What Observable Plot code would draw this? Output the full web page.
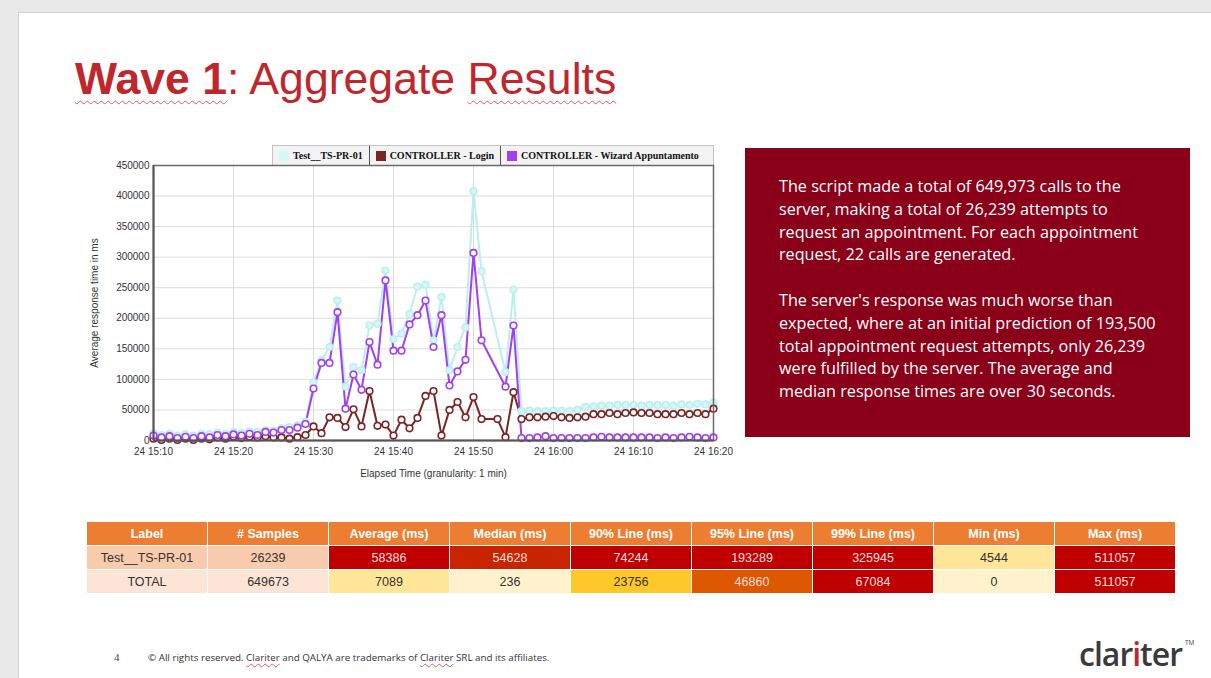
<!DOCTYPE html>
<html>
<head>
<meta charset="utf-8">
<script src="https://cdn.jsdelivr.net/npm/d3@7"></script>
<script src="https://cdn.jsdelivr.net/npm/@observablehq/plot@0.6"></script>
<style>
  html, body { margin: 0; padding: 0; }
  body { width: 1211px; height: 678px; background: #e9e9e9; position: relative; overflow: hidden; font-family: "Liberation Sans", Arial, sans-serif; }
  #slide { position: absolute; left: 18px; top: 12px; width: 1200px; height: 680px; background: #fff; border-left: 1px solid #d2d2d2; border-top: 1px solid #d2d2d2; }
  .abs { position: absolute; }
  #title { left: 75px; top: 57px; font-size: 44.6px; color: #c0272d; white-space: nowrap; line-height: 1; }
  .squig { text-decoration: underline wavy #e06060; text-decoration-thickness: 1px; text-underline-offset: 6px; }
  #box { left: 745px; top: 148px; width: 445px; height: 289px; background: #8a0018; }
  #boxtext { left: 779px; top: 175px; color: #fff; font-family: "Open Sans", sans-serif; font-size: 16.2px; line-height: 22.8px; white-space: nowrap; }
  #legend { left: 272px; top: 145px; width: 440px; height: 19px; background: #f3f3f3; border: 1px solid #c4c4c4; border-bottom: none; font-family: "Liberation Serif", "Times New Roman", serif; font-weight: bold; font-size: 10px; color: #111; display: flex; align-items: center; }
  .li { display: flex; align-items: center; padding: 0 6px; height: 100%; }
  .sw { width: 10px; height: 10px; margin-right: 4px; }
  #chart { left: 80px; top: 150px; }
  table { position: absolute; left: 86px; top: 521px; border-collapse: collapse; font-family: "Liberation Sans", Arial, sans-serif; font-size: 12.5px; }
  td, th { width: 120px; height: 23px; padding: 0; text-align: center; border: 1px solid #fff; }
  th { background: #ed7d31; color: #fff; font-weight: bold; font-size: 12.5px; }
  #pg { left: 114px; top: 651px; font-family: "Liberation Serif", serif; font-size: 11px; color: #444; }
  #foot { left: 148px; top: 651px; font-family: "Open Sans", sans-serif; font-size: 9.8px; color: #333; white-space: nowrap; }
  #logo { left: 1079px; top: 632px; font-family: "Open Sans", sans-serif; font-size: 32px; font-weight: 600; color: #3a3a3a; letter-spacing: -1px; white-space: nowrap; }
  #tm { left: 1185px; top: 638px; font-family: "Open Sans", sans-serif; font-size: 6.5px; color: #444; }
</style>
</head>
<body>
<div id="slide"></div>
<div id="title" class="abs"><b class="squig">Wave 1</b>: Aggregate <span class="squig">Results</span></div>
<div id="box" class="abs"></div>
<div id="boxtext" class="abs">The script made a total of 649,973 calls to the<br>server, making a total of 26,239 attempts to<br>request an appointment. For each appointment<br>request, 22 calls are generated.<br><br>The server's response was much worse than<br>expected, where at an initial prediction of 193,500<br>total appointment request attempts, only 26,239<br>were fulfilled by the server. The average and<br>median response times are over 30 seconds.</div>
<div id="legend" class="abs"></div>
<div id="chart" class="abs"></div>
<table id="tbl"></table>
<div id="pg" class="abs">4</div>
<div id="foot" class="abs">© All rights reserved. <span class="squig" style="text-underline-offset:2px">Clariter</span> and QALYA are trademarks of <span class="squig" style="text-underline-offset:2px">Clariter</span> SRL and its affiliates.</div>
<div id="logo" class="abs">clar<span style="color:#c0272d">i</span>ter</div>
<div id="tm" class="abs">TM</div>
<script>
// ---------- chart data ----------
const seriesNames = ["Test__TS-PR-01", "CONTROLLER - Login", "CONTROLLER - Wizard Appuntamento"];
const seriesColors = ["#bdeeee", "#7a2424", "#a23ff0"];
const dotFills = ["#d6f7f7", "#ffffff", "#ffffff"];
const dayLabel = "24";
const startTime = "2024-01-24T15:10:00Z";
const endTime = "2024-01-24T16:20:00Z";

// one value per minute, 15:10 .. 16:20 (null = no sample)
const testValues = [12000, 9000, 11000, 8000, 10000, 8000, 11000, 10000, 13000, 11000,
  14000, 12000, 15000, 14000, 17000, 16000, 20000, 22000, 25000, 31000,
  95000, 131000, 153000, 229000, 88000, 120000, 115000, 188000, 191000, 278000,
  166000, 175000, 207000, 252000, 255000, 164000, 235000, 115000, 153000, 185000,
  408000, 277000, null, null, 112000, 247000, 48000, 49000,
  48000, 48000, 49000, 49000, 48000, 50000, 55000, 56000, 57000, 57000, 58000, 58000,
  58000, 57000, 58000, 58000, 58000, 57000, 59000, 58000, 60000, 59000, 62000];
const loginValues = [3000, 1000, 3000, 1000, 3000, 1000, 3000, 2000, 5000, 3000,
  6000, 4000, 6000, 5000, 7000, 5000, 5000, 3000, 5500, 9000,
  23000, 12000, 38000, 37000, 22000, 51000, 23000, 81000, 24000, 26000,
  8000, 34000, 20000, 37000, 73000, 81000, 8000, 50000, 63000, 38000,
  71000, 35000, null, 35000, 5500, 79000, 35000, 38000,
  38000, 39000, 40000, 38000, 37000, 38000, 39000, 43000, 43000, 45000, 43000, 45000,
  46000, 45000, 45000, 43000, 43000, 43000, 45000, 43000, 45000, 43000, 52000];
const wizardValues = [8000, 5000, 7000, 4000, 6000, 4000, 7000, 5000, 9000, 7000,
  10000, 8000, 11000, 9000, 14000, 13000, 17000, 17000, 21000, 27000,
  85000, 127000, 127000, 210000, 52000, 108000, 83000, 161000, 124000, 262000,
  147000, 147000, 190000, 205000, 229000, 153000, 205000, 90000, 113000, 132000,
  307000, 164000, null, null, 88000, 188000, 4000, 4000,
  5000, 7000, 4000, 4000, 4000, 4000, 4000, 5000, 6000, 5000, 5000, 5000,
  5000, 5000, 5000, 4000, 5000, 4000, 5000, 6000, 5000, 4000, 5000];
const yTicks = [0, 50000, 100000, 150000, 200000, 250000, 300000, 350000, 400000, 450000];
const yLabel = "Average response time in ms";
const xLabel = "Elapsed Time (granularity: 1 min)";

// ---------- table data ----------
const tableHeaders = ["Label", "# Samples", "Average (ms)", "Median (ms)", "90% Line (ms)", "95% Line (ms)", "99% Line (ms)", "Min (ms)", "Max (ms)"];
const row1Values = ["Test__TS-PR-01", "26239", "58386", "54628", "74244", "193289", "325945", "4544", "511057"];
const row2Values = ["TOTAL", "649673", "7089", "236", "23756", "46860", "67084", "0", "511057"];
const row1Colors = ["#f8cbad", "#f8cbad", "#c00000", "#c92400", "#c00000", "#c00000", "#c00000", "#ffe699", "#c00000"];
const row2Colors = ["#fce4d6", "#fce4d6", "#ffe699", "#fff2cc", "#ffc82a", "#dd5800", "#c00000", "#fff2cc", "#c00000"];

// ---------- build table ----------
const tbl = document.getElementById("tbl");
const dark = c => ["#c00000", "#c92400", "#dd5800"].includes(c);
tbl.innerHTML =
  "<tr>" + tableHeaders.map(h => "<th>" + h.replace("(ms)", '(<span class="squig" style="text-underline-offset:2px;text-decoration-color:#f08080">ms</span>)') + "</th>").join("") + "</tr>" +
  [[row1Values, row1Colors], [row2Values, row2Colors]].map(([vals, cols]) =>
    "<tr>" + vals.map((v, i) => `<td style="background:${cols[i]};color:${dark(cols[i]) ? "#f6dede" : "#333"}">${v}</td>`).join("") + "</tr>").join("");

// ---------- legend ----------
const legend = document.getElementById("legend");
legend.innerHTML = seriesNames.map((n, i) =>
  `<div class="li" style="${i > 0 ? "border-left:1px solid #555;" : ""}"><div class="sw" style="background:${i === 0 ? "#d4f7f7" : seriesColors[i]}"></div>${n}</div>`).join("");

// ---------- chart ----------
const t0 = new Date(startTime);
const t1 = new Date(endTime);
const allSeries = [testValues, loginValues, wizardValues];
const rows = [];
allSeries.forEach((vals, s) => vals.forEach((v, i) => {
  if (v != null) rows.push({time: d3.utcMinute.offset(t0, i), value: v, series: seriesNames[s]});
}));
const xTicks = d3.utcMinute.every(10).range(t0, d3.utcMinute.offset(t1, 1));

const chart = Plot.plot({
  width: 665,
  height: 340,
  marginLeft: 73,
  marginRight: 32,
  marginTop: 15,
  marginBottom: 50,
  style: {fontFamily: "Liberation Sans, Arial, sans-serif", fontSize: "10px", color: "#333", background: "transparent", overflow: "visible"},
  x: {type: "utc", domain: [t0, t1]},
  y: {domain: [0, 450000]},
  color: {domain: seriesNames, range: seriesColors},
  marks: [
    Plot.gridX(xTicks, {stroke: "#dcdcdc", strokeOpacity: 1}),
    Plot.gridY(yTicks, {stroke: "#dcdcdc", strokeOpacity: 1}),
    Plot.axisX({ticks: xTicks, tickFormat: d => dayLabel + " " + d3.utcFormat("%H:%M")(d), tickSize: 0, tickPadding: 7,
      label: xLabel, labelAnchor: "center", labelArrow: "none", labelOffset: 36, fontSize: 10}),
    Plot.axisY({ticks: yTicks, tickFormat: d3.format("d"), tickSize: 0, tickPadding: 4,
      label: yLabel, labelAnchor: "center", labelArrow: "none", labelOffset: 63}),
    Plot.line(rows, {x: "time", y: "value", z: "series", stroke: "series", strokeWidth: 2}),
    Plot.dot(rows, {x: "time", y: "value", stroke: "series", r: 3.3, strokeWidth: 1.6,
      fill: d => dotFills[seriesNames.indexOf(d.series)]}),
    Plot.frame({stroke: "#6a6a6a", strokeWidth: 1.5}),
    Plot.ruleX([t0], {stroke: "#555", strokeWidth: 2}),
    Plot.ruleY([0], {stroke: "#555", strokeWidth: 2})
  ]
});
document.getElementById("chart").appendChild(chart);
</script>
</body>
</html>
